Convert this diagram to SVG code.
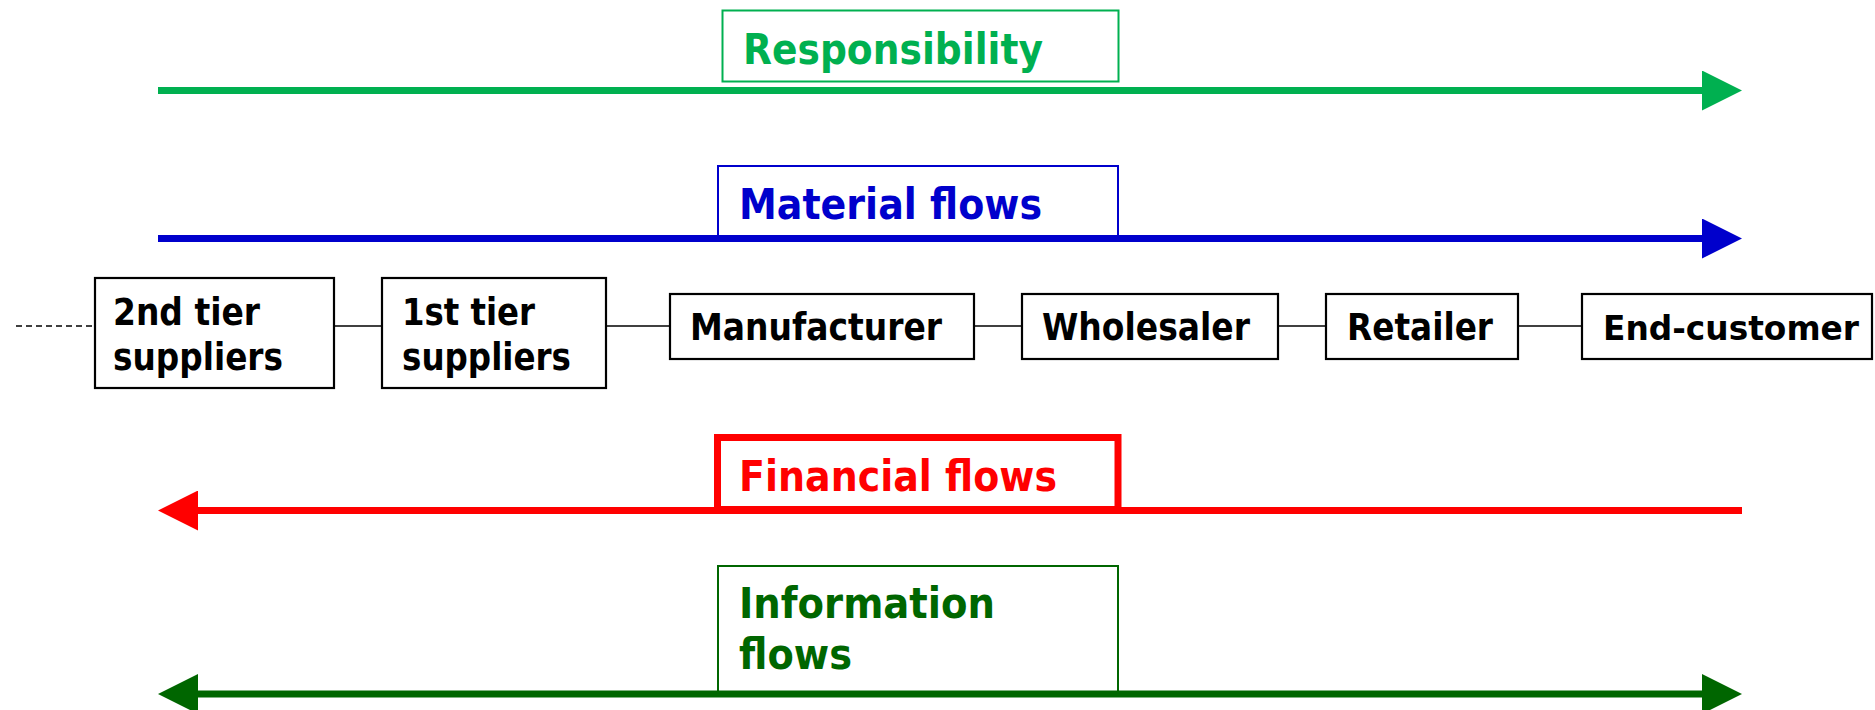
<svg xmlns="http://www.w3.org/2000/svg" width="1875" height="710" viewBox="0 0 1875 710">
<style>
text{font-family:"DejaVu Sans",Verdana,"Liberation Sans",sans-serif;font-weight:bold;}
.lbl{font-size:43px;}
.nt{font-size:37px;fill:#000;}
.node rect{fill:#fff;stroke:#000;stroke-width:2.2;}
.conn{stroke:#000;stroke-width:1.6;fill:none;}
.flow{stroke-width:7;fill:none;}
</style>
<defs>
<marker id="ahG" markerUnits="userSpaceOnUse" markerWidth="40" markerHeight="40" refX="8" refY="20" orient="auto-start-reverse"><path d="M0,0 L40,20 L0,40 z" fill="#00B050"/></marker>
<marker id="ahB" markerUnits="userSpaceOnUse" markerWidth="40" markerHeight="40" refX="8" refY="20" orient="auto-start-reverse"><path d="M0,0 L40,20 L0,40 z" fill="#0000CC"/></marker>
<marker id="ahR" markerUnits="userSpaceOnUse" markerWidth="40" markerHeight="40" refX="8" refY="20" orient="auto-start-reverse"><path d="M0,0 L40,20 L0,40 z" fill="#FF0000"/></marker>
<marker id="ahD" markerUnits="userSpaceOnUse" markerWidth="40" markerHeight="40" refX="8" refY="20" orient="auto-start-reverse"><path d="M0,0 L40,20 L0,40 z" fill="#006600"/></marker>
</defs>
<rect width="1875" height="710" fill="#fff"/>

<g id="flows">
<g id="responsibility">
<rect x="722.5" y="10.5" width="396" height="71" fill="#fff" stroke="#00B050" stroke-width="2"/>
<text class="lbl" x="743" y="63.5" fill="#00B050" textLength="300" lengthAdjust="spacingAndGlyphs">Responsibility</text>
<line class="flow" x1="158" y1="90.5" x2="1710" y2="90.5" stroke="#00B050" marker-end="url(#ahG)"/>
</g>
<g id="material">
<rect x="718" y="166" width="400" height="72" fill="#fff" stroke="#0000CC" stroke-width="2"/>
<text class="lbl" x="739" y="218.5" fill="#0000CC" textLength="303" lengthAdjust="spacingAndGlyphs">Material flows</text>
<line class="flow" x1="158" y1="238.5" x2="1710" y2="238.5" stroke="#0000CC" marker-end="url(#ahB)"/>
</g>
<g id="financial">
<rect x="717.5" y="437.5" width="400.5" height="72" fill="#fff" stroke="#FF0000" stroke-width="7"/>
<text class="lbl" x="739" y="491" fill="#FF0000" textLength="318" lengthAdjust="spacingAndGlyphs">Financial flows</text>
<line class="flow" x1="190" y1="510.5" x2="1742" y2="510.5" stroke="#FF0000" marker-start="url(#ahR)"/>
</g>
<g id="information">
<rect x="718" y="566" width="400" height="128" fill="#fff" stroke="#006600" stroke-width="2"/>
<text class="lbl" x="739" y="617.5" fill="#006600" textLength="256" lengthAdjust="spacingAndGlyphs">Information</text>
<text class="lbl" x="739" y="668.5" fill="#006600" textLength="113" lengthAdjust="spacingAndGlyphs">flows</text>
<line class="flow" x1="190" y1="694" x2="1710" y2="694" stroke="#006600" marker-start="url(#ahD)" marker-end="url(#ahD)"/>
</g>
</g>

<g id="connectors">
<line class="conn" x1="16" y1="326" x2="94" y2="326" stroke-dasharray="6,4"/>
<line class="conn" x1="334" y1="326" x2="382" y2="326"/>
<line class="conn" x1="606" y1="326" x2="670" y2="326"/>
<line class="conn" x1="974" y1="326" x2="1022" y2="326"/>
<line class="conn" x1="1278" y1="326" x2="1326" y2="326"/>
<line class="conn" x1="1518" y1="326" x2="1582" y2="326"/>
</g>

<g id="n-2nd-tier" class="node">
<rect x="95" y="278" width="239" height="110"/>
<text class="nt" x="113" y="325" textLength="147" lengthAdjust="spacingAndGlyphs">2nd tier</text>
<text class="nt" x="113" y="370" textLength="170" lengthAdjust="spacingAndGlyphs">suppliers</text>
</g>
<g id="n-1st-tier" class="node">
<rect x="382" y="278" width="224" height="110"/>
<text class="nt" x="402" y="325" textLength="133" lengthAdjust="spacingAndGlyphs">1st tier</text>
<text class="nt" x="402" y="370" textLength="169" lengthAdjust="spacingAndGlyphs">suppliers</text>
</g>
<g id="n-manufacturer" class="node">
<rect x="670" y="294" width="304" height="65"/>
<text class="nt" x="690" y="340" textLength="252" lengthAdjust="spacingAndGlyphs">Manufacturer</text>
</g>
<g id="n-wholesaler" class="node">
<rect x="1022" y="294" width="256" height="65"/>
<text class="nt" x="1042" y="340" textLength="208" lengthAdjust="spacingAndGlyphs">Wholesaler</text>
</g>
<g id="n-retailer" class="node">
<rect x="1326" y="294" width="192" height="65"/>
<text class="nt" x="1347" y="340" textLength="146" lengthAdjust="spacingAndGlyphs">Retailer</text>
</g>
<g id="n-end-customer" class="node">
<rect x="1582" y="294" width="290" height="65"/>
<text class="nt" x="1603" y="340" style="font-size:34px" textLength="256" lengthAdjust="spacingAndGlyphs">End-customer</text>
</g>
</svg>
